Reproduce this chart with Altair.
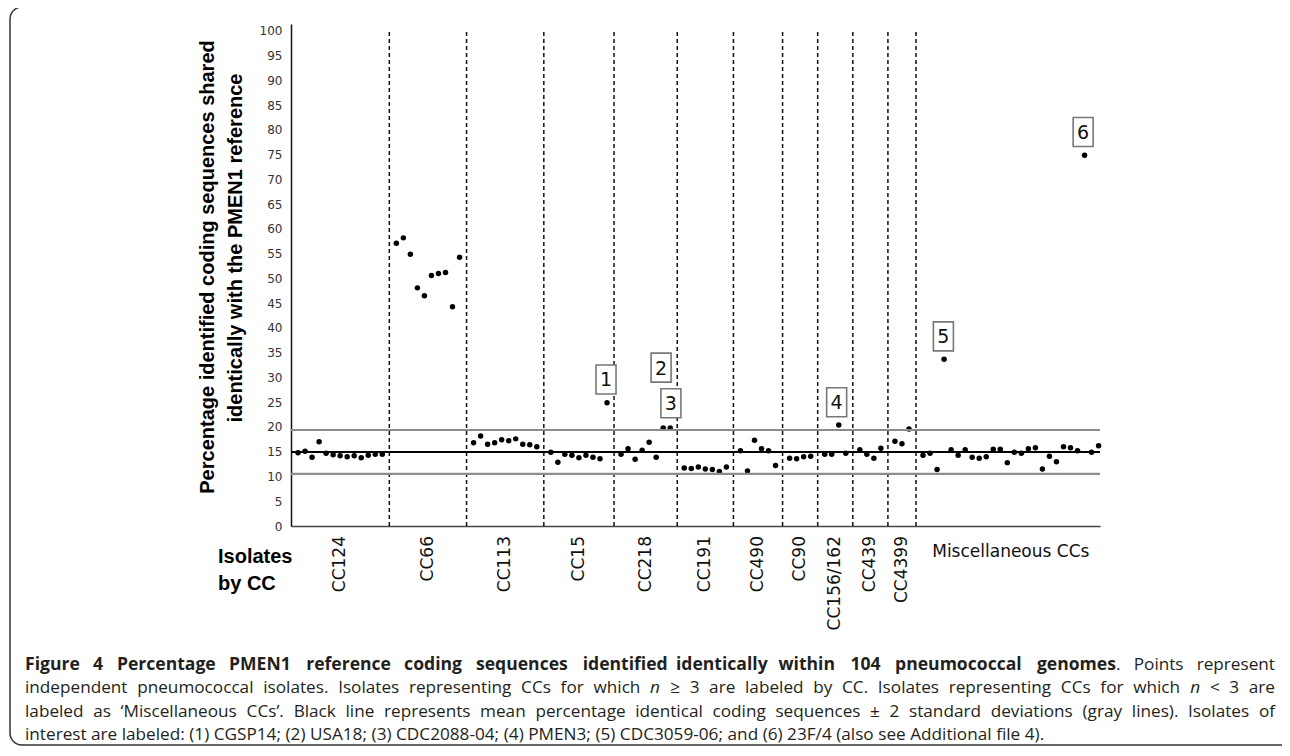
import altair as alt
import pandas as pd

# ---- data ----
groups = ["CC124", "CC66", "CC113", "CC15", "CC218", "CC191", "CC490",
          "CC90", "CC156/162", "CC439", "CC4399", "Miscellaneous CCs"]
cc124 = [14.8, 15.1, 13.9, 17.0, 14.7, 14.4, 14.2, 14.0, 14.2, 13.8, 14.3, 14.5, 14.5]
cc66 = [57.1, 58.2, 54.9, 48.1, 46.5, 50.6, 51.0, 51.2, 44.3, 54.3]
cc113 = [16.8, 18.2, 16.5, 16.8, 17.4, 17.2, 17.6, 16.5, 16.4, 16.0]
cc15 = [14.9, 12.9, 14.5, 14.3, 13.8, 14.3, 13.9, 13.6, 24.9]
cc218 = [14.5, 15.6, 13.5, 15.3, 16.9, 13.9, 19.8, 19.8]
cc191 = [11.7, 11.6, 11.9, 11.5, 11.4, 11.0, 11.9]
cc490 = [15.2, 11.1, 17.3, 15.6, 15.2, 12.2]
cc90 = [13.7, 13.6, 14.0, 14.1]
cc156_162 = [14.5, 14.5, 20.4, 14.7]
cc439 = [15.4, 14.5, 13.7, 15.7]
cc4399 = [17.1, 16.6, 19.6]
misc = [14.3, 14.7, 11.4, 33.7, 15.4, 14.3, 15.4, 13.9, 13.7, 14.0, 15.5, 15.5, 12.8,
        14.9, 14.7, 15.6, 15.8, 11.5, 14.1, 13.0, 16.0, 15.8, 15.2, 74.9, 14.9, 16.2]
group_values = [cc124, cc66, cc113, cc15, cc218, cc191, cc490, cc90,
                cc156_162, cc439, cc4399, misc]

mean_pct = 14.95
sd_pct = 2.22

ann_labels = ["1", "2", "3", "4", "5", "6"]
ann_x = [44.86, 52.7, 54.1, 77.7, 92.9, 112.8]
ann_y = [29.6, 32.0, 24.8, 25.0, 38.3, 79.6]

y_ticks = list(range(0, 101, 5))

y_title = ["Percentage identified coding sequences shared",
           "identically with the PMEN1 reference"]
x_title = ["Isolates", "by CC"]

# caption: (text, weight, style); "~" before a token glues it to the previous one
caption_rows = [
    ([(w, "bold", "normal") for w in
      "Figure 4 Percentage PMEN1 reference coding sequences identified identically "
      "within 104 pneumococcal genomes".split()]
     + [("~.", "normal", "normal"), ("Points", "normal", "normal"),
        ("represent", "normal", "normal")], True),
    ([(w, "normal", "normal") for w in
      "independent pneumococcal isolates. Isolates representing CCs for which".split()]
     + [("n", "normal", "italic")]
     + [(w, "normal", "normal") for w in
        "\u2265 3 are labeled by CC. Isolates representing CCs for which".split()]
     + [("n", "normal", "italic")]
     + [(w, "normal", "normal") for w in "< 3 are".split()], True),
    ([(w, "normal", "normal") for w in
      ("labeled as \u2018Miscellaneous CCs\u2019. Black line represents mean percentage "
       "identical coding sequences \u00b1 2 standard deviations (gray lines). "
       "Isolates of").split()], True),
    ([(w, "normal", "normal") for w in
      ("interest are labeled: (1) CGSP14; (2) USA18; (3) CDC2088-04; (4) PMEN3; "
       "(5) CDC3059-06; and (6) 23F/4 (also see Additional file 4).").split()], False),
]

# ---- approximate Open Sans advance widths (units per em 2048) for caption layout ----
_w = {' ': 532, '!': 565, '"': 821, "'": 383, '(': 606, ')': 606, ',': 502, '-': 659,
      '.': 545, '/': 752, ':': 545, ';': 545, '<': 1171, '=': 1171, '>': 1171, '?': 879,
      '\u2018': 358, '\u2019': 358, '\u2265': 1171, '\u00b1': 1171}
for d in "0123456789":
    _w[d] = 1171
_w.update(dict(zip("ABCDEFGHIJKLMNOPQRSTUVWXYZ",
                   [1296, 1327, 1292, 1493, 1139, 1057, 1491, 1511, 571, 547, 1257, 1063,
                    1849, 1544, 1595, 1233, 1595, 1266, 1124, 1138, 1509, 1242, 1925,
                    1198, 1147, 1169])))
_w.update(dict(zip("abcdefghijklmnopqrstuvwxyz",
                   [1139, 1255, 975, 1255, 1149, 694, 1122, 1257, 518, 518, 1075, 518,
                    1905, 1257, 1237, 1255, 1255, 836, 977, 723, 1257, 1026, 1593, 1073,
                    1028, 977])))
SPACE_EM = _w[' '] / 2048


def em_width(s, weight):
    k = 1.075 if weight == "bold" else 1.0
    return sum(_w.get(c, 1150) for c in s) / 2048 * k


# ---- build tables ----
pts, divs, centers = [], [], []
slot = 1
for gi, (g, vals) in enumerate(zip(groups, group_values)):
    start = slot
    for v in vals:
        pts.append({"slot": slot, "pct": v, "group": g})
        slot += 1
    centers.append({"slot": (start + slot - 1) / 2, "group": g,
                    "kind": "misc" if g.startswith("Misc") else "cc"})
    if gi < len(groups) - 1:
        divs.append({"slot": slot, "pct": 0, "hi": 100})
        slot += 1
pts = pd.DataFrame(pts)
divs = pd.DataFrame(divs)
centers = pd.DataFrame(centers)
lines = pd.DataFrame({"pct": [mean_pct, mean_pct - 2 * sd_pct, mean_pct + 2 * sd_pct],
                      "kind": ["mean", "sd", "sd"]})
ann = pd.DataFrame({"label": ann_labels, "slot": ann_x, "pct": ann_y})

W, H = 809, 502
PAD = {"left": 283, "top": 16, "right": 182, "bottom": 221}

# caption layout (justified like the journal page)
cap_x0, cap_x1 = 25 - 8 - PAD["left"], 1275 - 8 - PAD["left"]
cap_y0, cap_dy = 665 - 8 - PAD["top"], 23.4
last_tokens = caption_rows[-1][0]
last_em = sum(em_width(t, wt) for t, wt, _ in last_tokens) + \
    (len(last_tokens) - 1) * SPACE_EM
cap_size = round((1044 - 25) / last_em, 2)
bold_tokens = [t for t, wt, _ in caption_rows[0][0] if wt == "bold"]
bold_em = sum(em_width(t, "bold") for t in bold_tokens) + (len(bold_tokens) - 1) * SPACE_EM
bold_size = round(min((1013 - 25) / bold_em, cap_size * 1.1), 2)
sizes = {"bold": bold_size, "normal": cap_size}

cap_rows = []
for li, (tokens, justify) in enumerate(caption_rows):
    toks = [(t.lstrip("~"), wt, st, t.startswith("~")) for t, wt, st in tokens]
    widths = [em_width(t, wt) * sizes[wt] for t, wt, st, g in toks]
    n_gaps = sum(1 for i, tk in enumerate(toks) if i > 0 and not tk[3])
    if justify:
        gap = (cap_x1 - cap_x0 - sum(widths)) / n_gaps
    else:
        gap = SPACE_EM * cap_size
    half = len(toks) // 2 if justify else len(toks)
    y = cap_y0 + li * cap_dy
    x = cap_x0
    for i in range(half):
        if i > 0 and not toks[i][3]:
            x += gap
        cap_rows.append({"px": x, "py": y, "t": toks[i][0], "weight": toks[i][1],
                         "style": toks[i][2], "align": "left"})
        x += widths[i]
    x = cap_x1
    for i in range(len(toks) - 1, half - 1, -1):
        cap_rows.append({"px": x, "py": y, "t": toks[i][0], "weight": toks[i][1],
                         "style": toks[i][2], "align": "right"})
        x -= widths[i]
        if not toks[i][3]:
            x -= gap
cap_df = pd.DataFrame(cap_rows)

xs = alt.Scale(domain=[0, 115.2], nice=False, zero=False)
ys = alt.Scale(domain=[0, 101.4], nice=False, zero=False)

x_axis = alt.Axis(labels=False, ticks=False, grid=False, title=None,
                  domainColor="#444", domainWidth=1.5)
y_axis = alt.Axis(values=y_ticks, ticks=False, grid=False, title=None,
                  labelFont="DejaVu Sans", labelFontSize=12, labelColor="#333",
                  labelPadding=9, labelOverlap=False,
                  domainColor="#111", domainWidth=1.5)
X = alt.X("slot:Q", scale=xs, axis=x_axis)
Y = alt.Y("pct:Q", scale=ys, axis=y_axis)

one = pd.DataFrame({"a": [0]})


def txt(text, x, y, size, weight="normal", font="Open Sans", align="left", angle=0,
        color="#222"):
    return alt.Chart(one).mark_text(
        text=text, align=align, baseline="middle", fontSize=size, fontWeight=weight,
        font=font, angle=angle, color=color
    ).encode(x=alt.value(x), y=alt.value(y))


border = alt.Chart(one).mark_rect(
    cornerRadius=12, fillOpacity=0, stroke="#333", strokeWidth=1.5
).encode(x=alt.value(-281), x2=alt.value(1030), y=alt.value(-17), y2=alt.value(721))

dividers = alt.Chart(divs).mark_rule(
    color="#111", strokeWidth=1.5, strokeDash=[4, 3]
).encode(x=X, y=Y, y2="hi:Q")

sdlines = alt.Chart(lines).transform_filter("datum.kind == 'sd'").mark_rule(
    color="#8c8c8c", strokeWidth=2.2
).encode(y=Y)
meanline = alt.Chart(lines).transform_filter("datum.kind == 'mean'").mark_rule(
    color="#000", strokeWidth=2.2
).encode(y=Y)

points = alt.Chart(pts).mark_circle(size=30, color="#000", opacity=1).encode(x=X, y=Y)

box_path = "M-0.69,-1L0.69,-1L0.69,1L-0.69,1Z"
boxes = alt.Chart(ann).mark_point(
    shape=box_path, size=841, filled=True, fill="white", fillOpacity=1,
    stroke="#777", strokeWidth=1.6, opacity=1
).encode(x=X, y=Y)
box_text = alt.Chart(ann).mark_text(
    font="DejaVu Sans", fontSize=19, color="#111", baseline="middle", dy=1
).encode(x=X, y=Y, text="label:N")

cc_labels = alt.Chart(centers).transform_filter("datum.kind == 'cc'").mark_text(
    font="DejaVu Sans", fontSize=17, color="#111", angle=270, align="right",
    baseline="middle"
).encode(x=X, y=alt.value(H + 10), text="group:N")
misc_label = alt.Chart(centers).transform_filter("datum.kind == 'misc'").mark_text(
    font="DejaVu Sans", fontSize=17, color="#111", align="center", baseline="middle"
).encode(x=X, y=alt.value(H + 26), text="group:N")

oy = 31 - 8 - PAD["top"]  # texts measured against the 100 % gridline position
texts = [
    txt(y_title[0], -83, 236 + oy, 20, "bold", "Liberation Sans", "center", 270, "#000"),
    txt(y_title[1], -55, 217 + oy, 20, "bold", "Liberation Sans", "center", 270, "#000"),
    txt(x_title[0], -73, 526 + oy, 20, "bold", "Liberation Sans", "left", 0, "#000"),
    txt(x_title[1], -73, 553 + oy, 20, "bold", "Liberation Sans", "left", 0, "#000"),
]

cap_layers = []
for (wt, st, al), sub in cap_df.groupby(["weight", "style", "align"]):
    cap_layers.append(
        alt.Chart(sub.reset_index(drop=True)).mark_text(
            font="Open Sans", fontSize=sizes[wt], fontWeight=wt, fontStyle=st, align=al,
            baseline="middle", color="#231f20"
        ).encode(x=alt.X("px:Q", scale=None, axis=None),
                 y=alt.Y("py:Q", scale=None, axis=None), text="t:N")
    )

chart = alt.layer(
    points, border, dividers, sdlines, meanline, boxes, box_text, cc_labels,
    misc_label, *texts, *cap_layers
).properties(
    width=W, height=H,
    padding=PAD,
    autosize=alt.AutoSizeParams(type="none"),
    background="white",
).configure_view(stroke=None)

chart.save("out.html", embed_options={"renderer": "svg", "actions": False})
